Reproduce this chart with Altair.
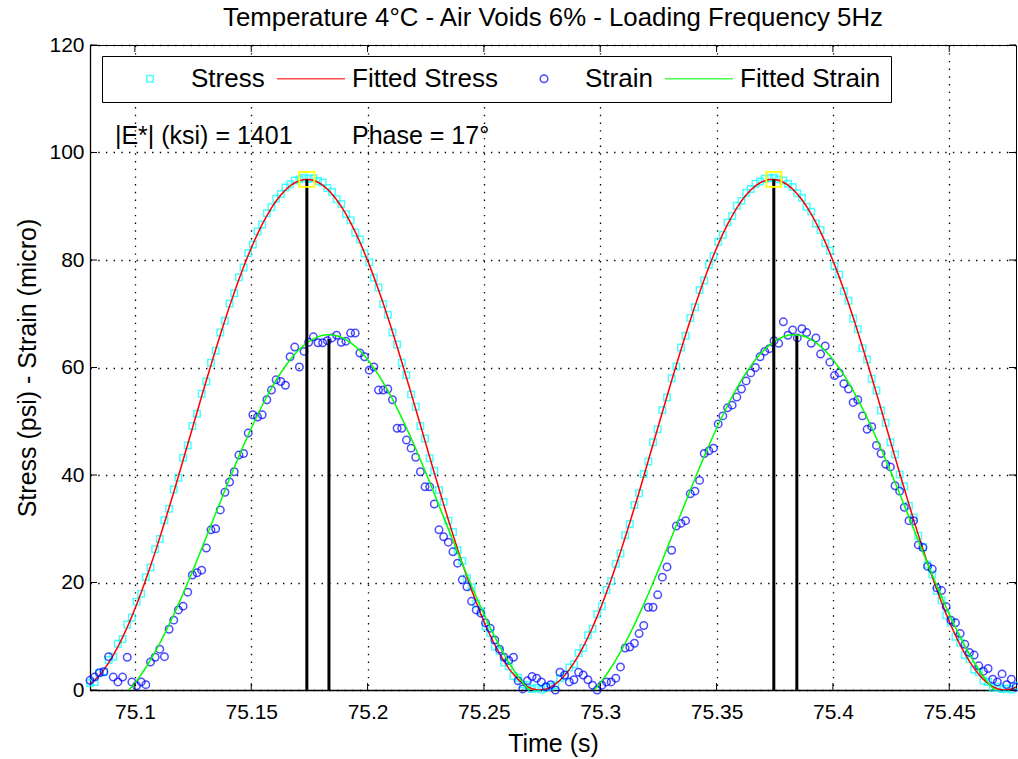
import altair as alt
import pandas as pd

FONT = "Liberation Sans"

# sampling clock of the record (s)
T0 = 75.0807
DT = 0.002

stress = [
    1.3, 1.5, 3.1, 3.4, 5.6, 6.2, 8.6, 9.5, 12.2, 13.5,
    16.4, 17.9, 21.0, 22.8, 26.2, 28.1, 31.6, 33.7, 37.3, 39.5,
    43.2, 45.5, 49.1, 51.4, 55.1, 57.4, 60.9, 63.1, 66.5, 68.7,
    71.9, 73.8, 76.8, 78.6, 81.3, 82.9, 85.3, 86.6, 88.7, 89.8,
    91.4, 92.3, 93.5, 94.1, 94.8, 95.0, 95.3, 95.1, 95.2, 94.7,
    94.4, 93.4, 92.7, 91.3, 90.4, 88.5, 87.4, 85.1, 83.8, 81.2,
    79.6, 76.7, 74.9, 71.8, 69.8, 66.5, 64.3, 60.9, 58.6, 55.0,
    52.7, 49.1, 46.8, 43.1, 40.8, 37.2, 35.0, 31.5, 29.4, 26.0,
    24.0, 20.8, 19.1, 16.1, 14.6, 11.8, 10.6, 8.1, 7.2, 5.1,
    4.4, 2.6, 2.3, 1.0, 0.9, 0.2, 0.4, 0.1, 0.5, 0.6,
    0.9, 2.2, 2.5, 4.2, 4.8, 6.9, 7.8, 10.2, 11.4, 14.1,
    15.6, 18.6, 20.3, 23.5, 25.4, 28.8, 30.9, 34.4, 36.6, 40.2,
    42.5, 46.1, 48.5, 52.1, 54.4, 58.0, 60.2, 63.7, 65.9, 69.2,
    71.2, 74.4, 76.2, 79.1, 80.7, 83.4, 84.7, 87.0, 88.2, 90.1,
    91.0, 92.5, 93.2, 94.2, 94.6, 95.1, 95.2, 95.3, 95.0, 94.8,
    94.2, 93.6, 92.4, 91.6, 89.9, 89.0, 86.8, 85.6, 83.1, 81.7,
    78.9, 77.3, 74.2, 72.4, 69.1, 67.1, 63.6, 61.5, 57.9, 55.7,
    52.0, 49.7, 46.1, 43.8, 40.1, 37.9, 34.3, 32.1, 28.7, 26.6,
    23.3, 21.5, 18.4, 16.7, 13.9, 12.5, 9.9, 8.8, 6.5, 5.7,
    3.8, 3.3, 1.7, 1.5, 0.4, 0.6, 0.2, 0.3, 0.1, 0.8,
]

stress_fit = [
    1.08, 1.80, 2.71, 3.79, 5.04, 6.46, 8.05, 9.79, 11.67, 13.70,
    15.86, 18.15, 20.54, 23.05, 25.65, 28.36, 31.13, 33.96, 36.78, 39.77,
    42.73, 45.71, 48.69, 51.67, 54.64, 57.57, 60.47, 63.31, 66.09, 68.80,
    71.42, 73.95, 76.38, 78.69, 80.88, 82.93, 84.85, 86.62, 88.23, 89.69,
    90.97, 92.09, 93.03, 93.79, 94.37, 94.76, 94.97, 94.98, 94.82, 94.46,
    93.92, 93.20, 92.29, 91.21, 89.96, 88.54, 86.95, 85.22, 83.33, 81.30,
    79.14, 76.86, 74.46, 71.95, 69.35, 66.64, 63.87, 61.04, 58.15, 55.23,
    52.27, 49.29, 46.31, 43.33, 40.36, 37.43, 34.53, 31.69, 28.91, 26.20,
    23.58, 21.05, 18.62, 16.31, 14.12, 12.07, 10.15, 8.38, 6.77, 5.31,
    4.03, 2.91, 1.97, 1.21, 0.63, 0.24, 0.03, 0.02, 0.18, 0.54,
    1.08, 1.80, 2.71, 3.79, 5.04, 6.46, 8.05, 9.79, 11.67, 13.70,
    15.86, 18.15, 20.54, 23.05, 25.65, 28.36, 31.13, 33.96, 36.78, 39.77,
    42.73, 45.71, 48.69, 51.67, 54.64, 57.57, 60.47, 63.31, 66.09, 68.80,
    71.42, 73.95, 76.38, 78.69, 80.88, 82.93, 84.85, 86.62, 88.23, 89.69,
    90.97, 92.09, 93.03, 93.79, 94.37, 94.76, 94.97, 94.98, 94.82, 94.46,
    93.92, 93.20, 92.29, 91.21, 89.96, 88.54, 86.95, 85.22, 83.33, 81.30,
    79.14, 76.86, 74.46, 71.95, 69.35, 66.64, 63.87, 61.04, 58.15, 55.23,
    52.27, 49.29, 46.31, 43.33, 40.36, 37.43, 34.53, 31.69, 28.91, 26.20,
    23.58, 21.05, 18.62, 16.31, 14.12, 12.07, 10.15, 8.38, 6.77, 5.31,
    4.03, 2.91, 1.97, 1.21, 0.63, 0.24, 0.03, 0.02, 0.18, 0.54,
]

strain = [
    1.8, 2.4, 3.2, 3.4, 6.2, 2.4, 1.5, 2.4, 6.1, 1.5,
    0.8, 1.5, 1.0, 5.2, 6.1, 7.6, 6.2, 11.3, 13.0, 14.9,
    15.6, 18.2, 21.4, 21.8, 22.3, 26.4, 29.8, 30.0, 33.5, 36.8,
    38.7, 40.6, 43.7, 44.0, 47.8, 51.2, 50.8, 51.2, 54.0, 55.8,
    57.7, 57.4, 56.7, 62.0, 63.8, 60.1, 63.0, 64.7, 65.7, 64.6,
    64.6, 65.0, 65.5, 66.0, 64.7, 64.9, 66.4, 66.4, 62.7, 62.0,
    59.5, 60.1, 55.8, 55.8, 56.0, 54.0, 48.7, 48.7, 46.5, 45.0,
    43.3, 40.6, 37.8, 37.8, 34.6, 29.8, 28.5, 27.5, 25.7, 23.6,
    20.5, 19.2, 16.5, 14.9, 14.3, 12.5, 11.5, 9.3, 7.6, 6.1,
    5.5, 6.1, 1.7, 0.2, 1.7, 2.5, 2.2, 1.5, 0.6, 1.0,
    0.0, 3.3, 2.8, 1.5, 1.9, 3.3, 2.8, 1.9, 0.9, 0.0,
    0.9, 1.5, 1.5, 2.2, 4.3, 7.8, 8.0, 8.7, 10.5, 12.0,
    15.4, 15.4, 17.7, 21.0, 22.9, 26.0, 30.5, 31.0, 31.5, 36.5,
    37.0, 39.0, 44.0, 44.5, 45.0, 49.5, 51.0, 52.5, 53.0, 54.5,
    56.0, 57.5, 59.0, 60.0, 62.0, 63.0, 63.5, 65.0, 64.5, 68.5,
    66.0, 67.0, 65.5, 67.2, 66.5, 64.5, 65.5, 62.5, 64.0, 61.0,
    58.5, 59.0, 57.0, 56.0, 53.5, 54.0, 51.0, 48.5, 49.0, 45.5,
    44.0, 42.0, 41.5, 38.0, 37.0, 34.0, 31.5, 31.5, 27.0, 26.5,
    23.0, 22.5, 19.0, 18.5, 15.5, 13.0, 12.5, 10.5, 8.5, 7.0,
    6.5, 4.5, 3.5, 4.0, 2.0, 1.5, 3.0, 1.0, 2.0, 0.5,
]

strain_fit = [
    -3.17, -3.29, -3.27, -3.11, -2.82, -2.39, -1.83, -1.14, -0.32, 0.63,
    1.70, 2.88, 4.18, 5.59, 7.10, 8.70, 10.39, 12.17, 14.02, 15.94,
    17.92, 19.95, 22.03, 24.15, 26.30, 28.46, 30.64, 32.82, 34.99, 37.15,
    39.29, 41.40, 43.46, 45.48, 47.44, 49.35, 51.17, 52.93, 54.59, 56.17,
    57.65, 59.02, 60.28, 61.43, 62.47, 63.38, 64.16, 64.81, 65.34, 65.72,
    65.98, 66.09, 66.07, 65.91, 65.62, 65.19, 64.63, 63.94, 63.11, 62.17,
    61.10, 59.91, 58.62, 57.21, 55.70, 54.10, 52.41, 50.63, 48.78, 46.86,
    44.88, 42.85, 40.77, 38.65, 36.51, 34.34, 32.16, 29.98, 27.81, 25.65,
    23.51, 21.41, 19.34, 17.32, 15.36, 13.46, 11.63, 9.88, 8.21, 6.63,
    5.16, 3.78, 2.52, 1.37, 0.33, -0.57, -1.36, -2.01, -2.53, -2.92,
    -3.17, -3.29, -3.27, -3.11, -2.82, -2.39, -1.83, -1.14, -0.32, 0.63,
    1.70, 2.88, 4.18, 5.59, 7.10, 8.70, 10.39, 12.17, 14.02, 15.94,
    17.92, 19.95, 22.03, 24.15, 26.30, 28.46, 30.64, 32.82, 34.99, 37.15,
    39.29, 41.40, 43.46, 45.48, 47.44, 49.35, 51.17, 52.93, 54.59, 56.17,
    57.65, 59.02, 60.28, 61.43, 62.47, 63.38, 64.16, 64.81, 65.34, 65.72,
    65.98, 66.09, 66.07, 65.91, 65.62, 65.19, 64.63, 63.94, 63.11, 62.17,
    61.10, 59.91, 58.62, 57.21, 55.70, 54.10, 52.41, 50.63, 48.78, 46.86,
    44.88, 42.85, 40.77, 38.65, 36.51, 34.34, 32.16, 29.98, 27.81, 25.65,
    23.51, 21.41, 19.34, 17.32, 15.36, 13.46, 11.63, 9.88, 8.21, 6.63,
    5.16, 3.78, 2.52, 1.37, 0.33, -0.57, -1.36, -2.01, -2.53, -2.92,
]

time = [round(T0 + DT * i, 4) for i in range(len(stress))]

x_ticks = [75.1, 75.15, 75.2, 75.25, 75.3, 75.35, 75.4, 75.45]
y_ticks = [0, 20, 40, 60, 80, 100, 120]
x_domain = [75.0807, 75.4787]
y_domain = [0, 120]

peak_time_stress = [75.1739, 75.3746]
peak_stress = [95.0, 95.0]
peak_time_strain = [75.1834, 75.3845]
peak_strain = [65.3, 65.9]

annot_text = ["|E*| (ksi) = 1401", "Phase = 17\u00b0"]
annot_time = [75.0914, 75.1933]
annot_value = [101.6, 101.6]

series_names = ["Stress", "Fitted Stress", "Strain", "Fitted Strain"]
series_colors = ["#00FFFF", "#FF0000", "#0000FF", "#00FF00"]
series_shapes = ["square", "stroke", "circle", "stroke"]
series_sizes = [42, 4624, 56, 4624]

title_text = "Temperature 4\u00b0C - Air Voids 6% - Loading Frequency 5Hz"

# ---------------- tables ----------------
stress_df = pd.DataFrame({"time": time, "value": stress, "series": "Stress"})
strain_df = pd.DataFrame({"time": time, "value": strain, "series": "Strain"})
stress_fit_df = pd.DataFrame({"time": time, "value": stress_fit})
strain_fit_df = pd.DataFrame({"time": time, "value": strain_fit})
peaks_df = pd.DataFrame({
    "time": peak_time_stress + peak_time_strain,
    "value": peak_stress + peak_strain,
})
ystar_df = pd.DataFrame({"time": peak_time_stress, "value": peak_stress})
annot_df = pd.DataFrame({"time": annot_time, "value": annot_value, "label": annot_text})
xt_df = pd.DataFrame({"time": x_ticks})
yt_df = pd.DataFrame({"value": y_ticks})

W, H = 926, 645

xscale = alt.Scale(domain=x_domain, nice=False, zero=False)
yscale = alt.Scale(domain=y_domain, nice=False, zero=False)

grid_style = dict(grid=True, gridColor="#000000", gridDash=[1.4, 6.3], gridWidth=1.3, gridOpacity=1)

x_axis = alt.Axis(
    values=x_ticks, format="~g", ticks=False, tickSize=0, labelPadding=11,
    labelFont=FONT, labelFontSize=21, labelColor="black", labelFlush=False, labelOverlap=False,
    domainColor="black", domainWidth=1.3, title="Time (s)", titleFont=FONT, titleFontSize=25,
    titleFontWeight="normal", titleColor="black", titlePadding=9, zindex=0, **grid_style,
)
y_axis = alt.Axis(
    values=y_ticks, ticks=False, tickSize=0, labelPadding=6,
    labelFont=FONT, labelFontSize=21, labelColor="black", labelFlush=False, labelOverlap=False,
    domainColor="black", domainWidth=1.3, title="Stress (psi) - Strain (micro)", titleFont=FONT,
    titleFontSize=25, titleFontWeight="normal", titleColor="black", titlePadding=8, zindex=0,
    **grid_style,
)

legend = alt.Legend(
    title=None, orient="none", legendX=12, legendY=11, direction="horizontal", columns=4,
    labelFont=FONT, labelFontSize=26, labelColor="black", labelOffset=6, labelLimit=0,
    symbolStrokeWidth=1.5, symbolOffset=3, columnPadding=8, padding=10, clipHeight=25,
    strokeColor="black", fillColor="white", zindex=1,
)

color_enc = alt.Color("series:N", scale=alt.Scale(domain=series_names, range=series_colors), legend=legend)
shape_enc = alt.Shape("series:N", scale=alt.Scale(domain=series_names, range=series_shapes), legend=legend)
size_enc = alt.Size("series:N", scale=alt.Scale(type="ordinal", domain=series_names, range=series_sizes), legend=legend)


def X():
    return alt.X("time:Q", scale=xscale, axis=x_axis)


def Y():
    return alt.Y("value:Q", scale=yscale, axis=y_axis)


stress_pts = alt.Chart(stress_df).mark_point(filled=False, strokeWidth=1.5).encode(
    x=X(), y=Y(), color=color_enc, shape=shape_enc, size=size_enc
)
stress_line = alt.Chart(stress_fit_df).mark_line(color="#FF0000", strokeWidth=1.5, clip=True).encode(x=X(), y=Y())
strain_pts = alt.Chart(strain_df).mark_point(filled=False, strokeWidth=1.5).encode(
    x=X(), y=Y(), color=color_enc, shape=shape_enc, size=size_enc
)
strain_line = alt.Chart(strain_fit_df).mark_line(color="#00FF00", strokeWidth=1.5, clip=True).encode(x=X(), y=Y())

peak_rules = alt.Chart(peaks_df).mark_rule(color="black", strokeWidth=3).encode(
    x=X(), y=Y(), y2=alt.datum(0)
)
peak_marks = alt.Chart(ystar_df).mark_point(
    shape="square", filled=False, size=225, color="#FFFF00", strokeWidth=1.8, opacity=1
).encode(x=X(), y=Y())

annot = alt.Chart(annot_df).mark_text(
    align="left", baseline="alphabetic", font=FONT, fontSize=25, color="black"
).encode(x=X(), y=Y(), text="label:N")

tick_len = 7
ticks_bottom = alt.Chart(xt_df).mark_rule(color="black", strokeWidth=1).encode(
    x=X(), y=alt.value(H), y2=alt.value(H - tick_len))
ticks_top = alt.Chart(xt_df).mark_rule(color="black", strokeWidth=1).encode(
    x=X(), y=alt.value(0), y2=alt.value(tick_len))
ticks_left = alt.Chart(yt_df).mark_rule(color="black", strokeWidth=1).encode(
    y=Y(), x=alt.value(0), x2=alt.value(tick_len))
ticks_right = alt.Chart(yt_df).mark_rule(color="black", strokeWidth=1).encode(
    y=Y(), x=alt.value(W), x2=alt.value(W - tick_len))

chart = alt.layer(
    stress_pts, stress_line, strain_pts, strain_line,
    peak_rules, peak_marks, annot,
    ticks_bottom, ticks_top, ticks_left, ticks_right,
).properties(
    width=W, height=H,
    padding={"left": 90, "top": 45, "right": 2, "bottom": 69},
    autosize=alt.AutoSizeParams(type="none"),
    background="white",
    title=alt.TitleParams(
        text=title_text, font=FONT, fontSize=25.8, fontWeight="normal", color="black",
        anchor="middle", frame="group", baseline="alphabetic", offset=-18,
    ),
).configure_view(stroke="black", strokeWidth=1)

chart.save("out.html", embed_options={"renderer": "svg", "actions": False})
